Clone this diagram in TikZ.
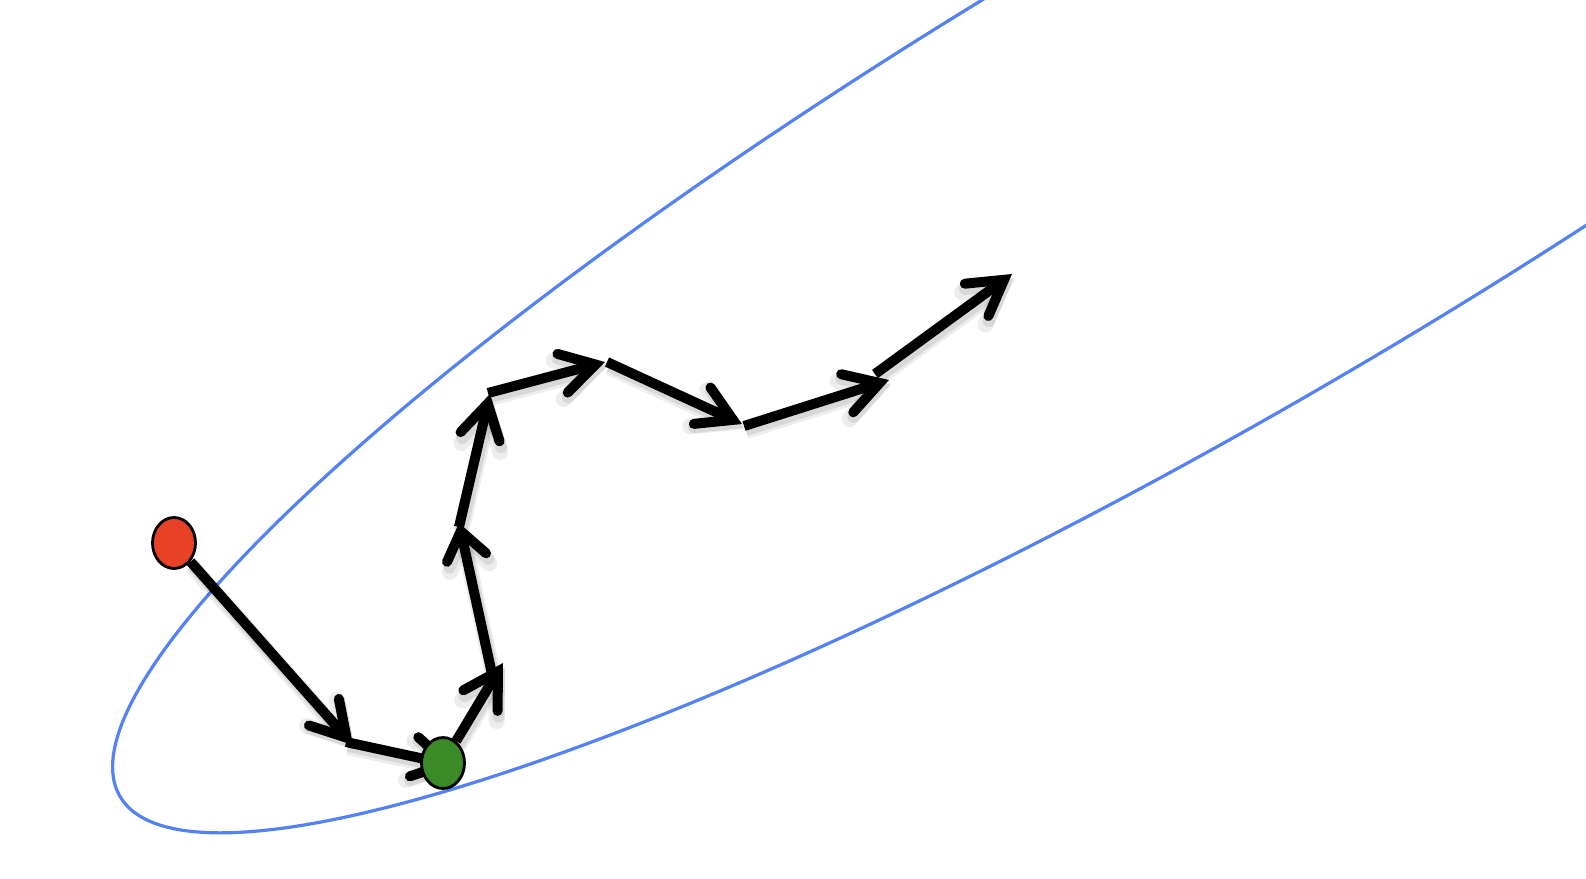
\documentclass[tikz,border=0pt]{standalone}
\usetikzlibrary{arrows.meta,shapes.geometric}
\definecolor{curveblue}{RGB}{84,130,245}
\definecolor{dotred}{RGB}{232,66,38}
\definecolor{dotgreen}{RGB}{58,138,40}
\tikzset{
  headlen/.initial=34pt,
  stepline/.style={line width=10pt, line cap=butt,
    -{Straight Barb[length=\pgfkeysvalueof{/tikz/headlen},width=40pt,line cap=round,line join=miter]},
    preaction={draw=black, opacity=0.07, line width=16pt,
      transform canvas={xshift=2pt,yshift=-5pt}},
    preaction={draw=black, opacity=0.09, line width=12pt,
      transform canvas={xshift=2pt,yshift=-4pt}}},
  shortstep/.style={headlen=27pt, stepline},
  dot/.style={ellipse, draw=black, line width=2.8pt, minimum width=43pt,
    minimum height=51pt, inner sep=0pt},
  level/.style={draw=curveblue, line width=3.2pt}
}
\begin{document}
\begin{tikzpicture}[x=1pt,y=-1pt]
\useasboundingbox (0,0) rectangle (1586,878);
\begin{scope}
\clip (0,0) rectangle (1586,878);
% level curve: rotated ellipse
\draw[level] plot[domain=0:360, samples=300, smooth]
  ({1215.4+1095.4*cos(\x)+128.0*sin(\x)}, {155.9-640.6*cos(\x)+218.9*sin(\x)}) -- cycle;
\end{scope}
% points
\coordinate (t1) at (353,745);
\coordinate (s2) at (346,742);
\coordinate (t2) at (457,766);
\coordinate (t3) at (503,663);
\coordinate (s4) at (492,674);
\coordinate (t4) at (459,523);
\coordinate (s5) at (459,527);
\coordinate (t5) at (490,394);
\coordinate (s6) at (488,393);
\coordinate (t6) at (605,362);
\coordinate (s7) at (607,362);
\coordinate (t7) at (742,424);
\coordinate (s8) at (744,426);
\coordinate (t8) at (889,380);
\coordinate (s9) at (875,374);
\coordinate (t9) at (1012,274);
\node[dot, fill=dotred] (red) at (174,543) {};
\draw[stepline] (red) -- (t1);
\draw[stepline] (s2) -- (t2);
\node[dot, fill=dotgreen] (green) at (443,763) {};
\draw[stepline] (green) -- (t3);
\draw[shortstep] (s4) -- (t4);
\draw[stepline] (s5) -- (t5);
\draw[stepline] (s6) -- (t6);
\draw[stepline] (s7) -- (t7);
\draw[stepline] (s8) -- (t8);
\draw[stepline] (s9) -- (t9);
\end{tikzpicture}
\end{document}
